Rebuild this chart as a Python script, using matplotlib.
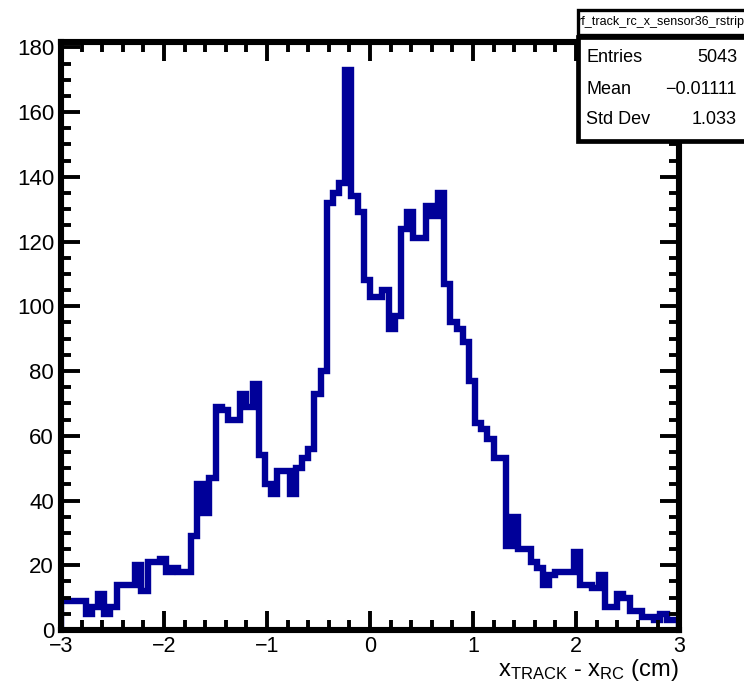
import matplotlib
matplotlib.use("Agg")
import matplotlib.pyplot as plt
from matplotlib.patches import Rectangle
from matplotlib.ticker import MultipleLocator
import numpy as np

# Histogram binning: 100 bins between -3 and 3 cm
x_lo = -3.0
x_hi = 3.0
n_bins = 100

# Bin contents (left to right)
counts = [9, 9, 9, 9, 5, 7, 11, 5, 7, 14,
          14, 14, 20, 12, 21, 21, 22, 18, 19, 18,
          18, 29, 45, 36, 47, 69, 68, 65, 65, 73,
          69, 76, 54, 45, 42, 49, 49, 42, 50, 53,
          56, 73, 80, 132, 135, 138, 173, 134, 129, 108,
          103, 103, 105, 93, 97, 124, 129, 121, 121, 131,
          128, 135, 107, 95, 93, 89, 77, 64, 62, 59,
          53, 53, 26, 35, 25, 25, 21, 19, 14, 17,
          18, 18, 18, 24, 14, 14, 13, 17, 7, 7,
          11, 10, 6, 6, 4, 4, 3, 5, 3, 3]

hist_name = "rf_track_rc_x_sensor36_rstrip4"
stats_labels = ["Entries", "Mean", "Std Dev"]
stats_values = ["5043", "\u22120.01111", "1.033"]

x_label = r"x$_{\rm TRACK}$ - x$_{\rm RC}$ (cm)"

# Figure size in pixels (at dpi 100)
W, H = 744, 684

plt.rcParams['font.family'] = ['Liberation Sans', 'DejaVu Sans']
plt.rcParams['mathtext.fontset'] = 'custom'
plt.rcParams['mathtext.rm'] = 'Liberation Sans'
plt.rcParams['mathtext.it'] = 'Liberation Sans'
plt.rcParams['axes.unicode_minus'] = True


def px_box(x0, y0, x1, y1):
    """pixel box (top-left origin) -> figure fraction [l, b, w, h]"""
    return [x0 / W, 1 - y1 / H, (x1 - x0) / W, (y1 - y0) / H]


fig = plt.figure(figsize=(W / 100, H / 100), dpi=100)
ax = fig.add_axes(px_box(61, 42, 679, 630))

edges = np.linspace(x_lo, x_hi, n_bins + 1)
step = ax.stairs(counts, edges, baseline=0, color='#000099', linewidth=4.6)
step.set_joinstyle('miter')
step.set_capstyle('butt')

ax.set_xlim(x_lo, x_hi)
ax.set_ylim(0, 1.05 * max(counts))

# ROOT style frame and ticks
for sp in ax.spines.values():
    sp.set_linewidth(4.4)
ax.xaxis.set_major_locator(MultipleLocator(1))
ax.xaxis.set_minor_locator(MultipleLocator(0.2))
ax.yaxis.set_major_locator(MultipleLocator(20))
ax.yaxis.set_minor_locator(MultipleLocator(5))
ax.tick_params(which='both', direction='in', top=True, right=True, width=2.8)
ax.tick_params(which='major', length=14, labelsize=16)
ax.tick_params(which='minor', length=7)
ax.tick_params(axis='x', which='major', pad=4.5, labelsize=15.5)
ax.tick_params(axis='y', which='major', pad=5)

# axis title, right aligned under the frame
fig.text(679 / W, 1 - 683 / H, x_label, ha='right', va='bottom', fontsize=17)

# title box (clipped like in the original)
tbox = Rectangle((578 / W, 1 - 35 / H), 172 / W, 25 / H, transform=fig.transFigure,
                 facecolor='white', edgecolor='black', linewidth=2.4, zorder=5)
fig.add_artist(tbox)
t = fig.text(577 / W, 1 - 22.5 / H, hist_name, ha='left', va='center', fontsize=9, zorder=6)
t.set_clip_path(tbox)

# stats box
sbox = Rectangle((578 / W, 1 - 141 / H), 172 / W, 104 / H, transform=fig.transFigure,
                 facecolor='white', edgecolor='black', linewidth=3.4, zorder=5)
fig.add_artist(sbox)
row_y = [58, 89, 120]
for lab, val, ry in zip(stats_labels, stats_values, row_y):
    fig.text(586 / W, 1 - ry / H, lab, ha='left', va='center', fontsize=13, zorder=6)
    fig.text(737 / W, 1 - ry / H, val, ha='right', va='center', fontsize=13, zorder=6)

fig.savefig("out.png", dpi=100)
